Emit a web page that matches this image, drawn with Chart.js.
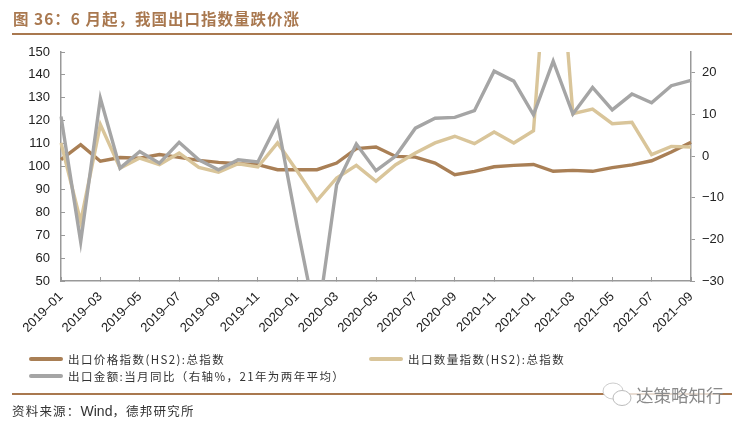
<!DOCTYPE html>
<html>
<head>
<meta charset="utf-8">
<script src="https://cdn.jsdelivr.net/npm/chart.js@4"></script>
<style>
html, body { margin: 0; padding: 0; background: #fff; }
#wrap { position: relative; width: 748px; height: 428px; overflow: hidden; font-family: "Noto Sans CJK SC", sans-serif; }
#chart { position: absolute; left: 0; top: 0; }
.abs { position: absolute; white-space: nowrap; }
.rule { position: absolute; left: 12px; width: 720px; background: #a9784f; height: 2px; }
.swatch { position: absolute; height: 4px; border-radius: 2px; width: 34px; }
.legend { font-size: 11.5px; color: #333; letter-spacing: 1.4px; line-height: 16px; }
</style>
</head>
<body>
<div id="wrap">
  <canvas id="chart" width="748" height="428"></canvas>
  <div class="abs" style="left:13px;top:7px;font-size:15.5px;font-weight:700;color:#a9784f;letter-spacing:1px;line-height:22px;">图 36：6 月起，我国出口指数量跌价涨</div>
  <div class="rule" style="top:33px;"></div>
  <div id="legend"></div>
  <div class="rule" style="top:393px;"></div>
  <div class="abs" style="left:12px;top:402px;font-size:12.5px;color:#333;letter-spacing:1.2px;line-height:18px;">资料来源：<span style="font-family:'Liberation Sans';font-size:14px;letter-spacing:0;">Wind</span>，德邦研究所</div>
  <div class="abs" style="left:628px;top:383px;width:92px;height:22px;background:rgba(255,255,255,.75);"></div>
  <svg class="abs" style="left:600px;top:382px;" width="36" height="26" viewBox="0 0 36 26">
    <ellipse cx="13" cy="9" rx="10" ry="8" fill="#fff" stroke="#ccc"/>
    <ellipse cx="22" cy="16" rx="9" ry="7.5" fill="#fff" stroke="#bbb"/>
  </svg>
  <div class="abs" style="left:636px;top:383px;font-size:17.5px;color:#8a8a8a;line-height:24px;">达策略知行</div>
</div>
<script>
const months = ['2019-01','2019-02','2019-03','2019-04','2019-05','2019-06','2019-07','2019-08','2019-09','2019-10','2019-11','2019-12',
  '2020-01','2020-02','2020-03','2020-04','2020-05','2020-06','2020-07','2020-08','2020-09','2020-10','2020-11','2020-12',
  '2021-01','2021-02','2021-03','2021-04','2021-05','2021-06','2021-07','2021-08','2021-09'];

// left axis
const priceIndex = [103.0,109.5,102.3,103.9,103.6,105.2,104.0,102.7,101.8,101.2,100.8,98.6,98.6,98.6,101.5,107.8,108.5,
  104.4,104.1,101.5,96.4,97.9,99.9,100.5,100.9,97.9,98.3,97.9,99.5,100.7,102.5,106.3,110.6];
const volumeIndex = [110.3,75.9,118.3,99.3,103.7,100.8,105.9,99.6,97.5,101.2,99.8,110.3,97.9,85.1,95.0,100.5,93.5,
  100.8,105.9,110.3,113.2,110.0,115.1,110.3,115.6,231.0,123.1,125.1,118.7,119.3,105.2,108.8,108.5];
// right axis
const exportYoy = [9.5,-20.6,13.9,-2.9,1.1,-1.7,3.3,-0.9,-3.3,-0.9,-1.4,8.0,-17.0,-40.6,-6.9,2.9,-3.5,
  0.0,6.7,9.1,9.3,10.9,20.4,18.0,9.9,22.8,10.1,16.5,11.1,14.9,12.8,16.9,18.2];

const seriesNames = ['出口价格指数(HS2):总指数','出口数量指数(HS2):总指数','出口金额:当月同比（右轴%，21年为两年平均）'];
const seriesColors = ['#a97f55','#d9c59a','#a5a5a5'];
const axisColor = '#999999';
const tickFont = { family: '"Liberation Sans", Arial, sans-serif', size: 13 };

// legend sits in two rows under the chart
const legendPos = [[29,359],[369,359],[29,376]];
document.getElementById('legend').innerHTML = seriesNames.map((name, i) => {
    const [x, y] = legendPos[i];
    return `<div class="swatch" style="left:${x}px;top:${y - 2}px;background:${seriesColors[i]}"></div>` +
        `<div class="abs legend" style="left:${x + 39}px;top:${y - 8}px">${name}</div>`;
}).join('');

function line(data, i, axis, order) {
    return {
        label: seriesNames[i],
        data: data,
        yAxisID: axis,
        borderColor: seriesColors[i],
        borderWidth: 3.4,
        pointRadius: 0,
        tension: 0,
        order: order
    };
}

new Chart(document.getElementById('chart'), {
    type: 'line',
    data: {
        labels: months,
        datasets: [
            line(priceIndex, 0, 'y', 3),
            line(volumeIndex, 1, 'y', 2),
            line(exportYoy, 2, 'y1', 1)
        ]
    },
    options: {
        responsive: false,
        animation: false,
        layout: { padding: { top: 52, left: 0, right: 0, bottom: 0 } },
        plugins: { legend: { display: false }, tooltip: { enabled: false } },
        scales: {
            x: {
                offset: false,
                afterFit: s => { s.height = 147; },
                border: { color: axisColor, width: 1.5 },
                grid: {
                    drawOnChartArea: false,
                    tickLength: -4,
                    tickColor: c => c.index % 2 ? 'transparent' : axisColor
                },
                ticks: {
                    autoSkip: false,
                    maxRotation: 45,
                    minRotation: 45,
                    padding: 12,
                    color: '#222',
                    font: tickFont,
                    callback: function (v, i) { return i % 2 ? '' : this.getLabelForValue(v).replace('-', '–'); }
                }
            },
            y: {
                position: 'left',
                min: 50,
                max: 150,
                afterFit: s => { s.width = 61; },
                border: { color: axisColor, width: 1.5 },
                grid: { drawOnChartArea: false, tickLength: -4, tickColor: axisColor },
                ticks: { stepSize: 10, padding: 15, color: '#222', font: tickFont }
            },
            y1: {
                position: 'right',
                min: -30,
                max: 25,
                afterFit: s => { s.width = 57; },
                afterBuildTicks: s => { s.ticks = s.ticks.filter(t => t.value <= 20); },
                border: { color: axisColor, width: 1.5 },
                grid: { drawOnChartArea: false, tickLength: 4, tickColor: axisColor },
                ticks: {
                    stepSize: 10,
                    padding: 7,
                    color: '#222',
                    font: tickFont,
                    callback: v => String(v).replace('-', '−')
                }
            }
        }
    }
});
</script>
</body>
</html>
